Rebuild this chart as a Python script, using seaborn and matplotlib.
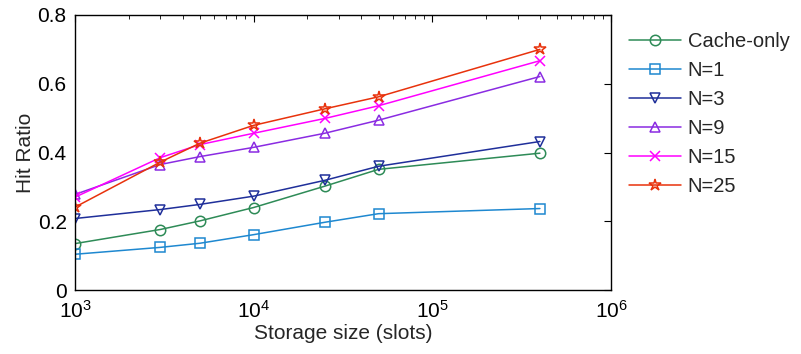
import pandas as pd
import seaborn as sns
import matplotlib
matplotlib.use("Agg")
import matplotlib.pyplot as plt
from matplotlib.ticker import LogLocator, NullFormatter, FixedLocator

# storage sizes (slots)
storage = [1000, 3000, 5000, 10000, 25000, 50000, 400000]

# hit ratio per scheme
cache_only = [0.135, 0.176, 0.201, 0.240, 0.302, 0.351, 0.398]
n1 = [0.104, 0.124, 0.136, 0.161, 0.197, 0.222, 0.237]
n3 = [0.208, 0.234, 0.249, 0.273, 0.319, 0.360, 0.432]
n9 = [0.278, 0.365, 0.388, 0.415, 0.456, 0.494, 0.621]
n15 = [0.270, 0.385, 0.423, 0.456, 0.499, 0.536, 0.667]
n25 = [0.241, 0.372, 0.427, 0.479, 0.527, 0.562, 0.700]

series_names = ["Cache-only", "N=1", "N=3", "N=9", "N=15", "N=25"]
series_values = [cache_only, n1, n3, n9, n15, n25]
colors = ["#2e8b57", "#1e88d0", "#1f2f9a", "#8a2be2", "#ff00ff", "#e8320c"]
markers = ["o", "s", "v", "^", "x", "*"]

y_ticks = [0, 0.2, 0.4, 0.6, 0.8]
y_ticklabels = ["0", "0.2", "0.4", "0.6", "0.8"]

sns.set_style("white")
plt.rcParams["font.family"] = ["Liberation Sans", "DejaVu Sans"]
plt.rcParams["mathtext.fontset"] = "custom"
plt.rcParams["mathtext.rm"] = "Liberation Sans"
plt.rcParams["mathtext.it"] = "Liberation Sans:italic"
plt.rcParams["mathtext.default"] = "regular"

fs = 15

fig = plt.figure(figsize=(8.01, 3.54), dpi=100)
ax = fig.add_axes([75 / 801, 1 - 290 / 354, (611 - 75) / 801, (290 - 15) / 354])

for name, vals, c, m in zip(series_names, series_values, colors, markers):
    df = pd.DataFrame({"storage": storage, "hit": vals})
    ms = 9 if m == "*" else 7.5
    sns.lineplot(data=df, x="storage", y="hit", ax=ax, color=c, marker=m,
                 markersize=ms, mfc="none", mec=c, mew=1.1, lw=1.1, label=name)

ax.set_xscale("log")
ax.set_xlim(1e3, 1e6)
ax.set_ylim(0, 0.8)
ax.yaxis.set_major_locator(FixedLocator(y_ticks))
ax.set_yticklabels(y_ticklabels)
ax.xaxis.set_major_locator(LogLocator(base=10, numticks=10))
ax.xaxis.set_minor_locator(LogLocator(base=10, subs=range(2, 10), numticks=10))
ax.xaxis.set_minor_formatter(NullFormatter())

for s in ax.spines.values():
    s.set_color("black")
    s.set_linewidth(1.0)
ax.tick_params(which="both", direction="in", top=True, right=True,
               labelsize=fs, colors="black")
ax.tick_params(axis="x", pad=7)
ax.tick_params(axis="y", pad=6)
ax.tick_params(which="major", length=5, width=0.8)
ax.tick_params(which="minor", length=3, width=0.6)

ax.set_xlabel("Storage size (slots)", fontsize=fs, labelpad=2)
ax.set_ylabel("Hit Ratio", fontsize=fs, labelpad=2)

ax.legend(loc="upper left", bbox_to_anchor=(1.0, 1.005), frameon=False,
          fontsize=14.5, handlelength=2.6, handletextpad=0.3, labelspacing=0.5,
          borderaxespad=0.5)

fig.savefig("out.png", dpi=100)
